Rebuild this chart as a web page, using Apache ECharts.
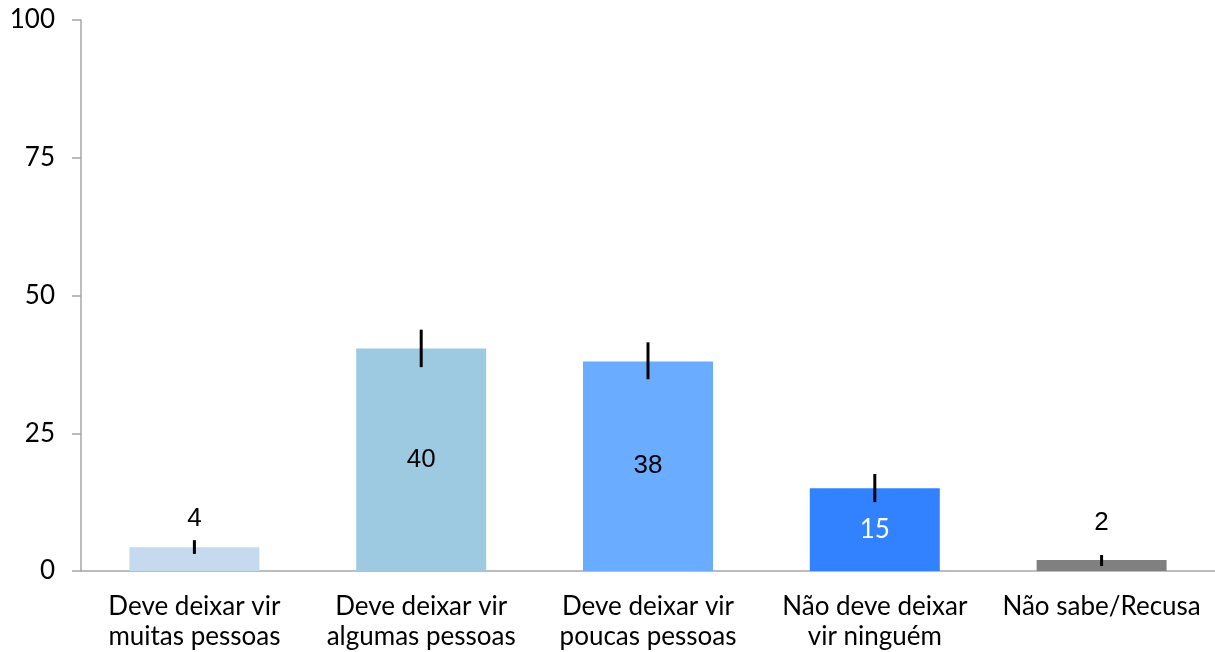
<!DOCTYPE html>
<html>
<head>
<meta charset="utf-8">
<script src="https://cdn.jsdelivr.net/npm/echarts@6/dist/echarts.min.js"></script>
<style>
  html, body { margin: 0; padding: 0; background: #fff; }
  #main { width: 1215px; height: 652px; }
</style>
</head>
<body>
<div id="main"></div>
<script>
const categories = [
  'Deve deixar vir\nmuitas pessoas',
  'Deve deixar vir\nalgumas pessoas',
  'Deve deixar vir\npoucas pessoas',
  'Não deve deixar\nvir ninguém',
  'Não sabe/Recusa'
]
const values = [4.3, 40.4, 38.0, 15.0, 2.0]
const labels = ['4', '40', '38', '15', '2']
const errLow = [3.1, 37.0, 34.8, 12.5, 0.9]
const errHigh = [5.6, 43.8, 41.5, 17.6, 2.9]
const colors = ['#c5d9ef', '#9ecae1', '#6aacff', '#3282ff', '#808080']
const yTicks = [0, 25, 50, 75, 100]

const chart = echarts.init(document.getElementById('main'))

const labelStyle = [
  { position: 'top', distance: 15, color: '#000', fontFamily: 'Liberation Sans' },
  { position: 'inside', color: '#000', fontFamily: 'Liberation Sans' },
  { position: 'inside', color: '#000', fontFamily: 'Liberation Sans' },
  { position: 'inside', color: '#fff', fontFamily: 'Lato' },
  { position: 'top', distance: 24, color: '#000', fontFamily: 'Liberation Sans' }
]

chart.setOption({
  animation: false,
  grid: { left: 81, right: 0, top: 20, bottom: 79 },
  xAxis: {
    type: 'category',
    data: categories,
    axisLine: { lineStyle: { color: '#a6a6a6', width: 1.5 } },
    axisTick: { show: false },
    axisLabel: {
      fontFamily: 'Lato', fontSize: 26, color: '#000',
      lineHeight: 30, margin: 21, interval: 0
    }
  },
  yAxis: {
    type: 'value',
    min: yTicks[0],
    max: yTicks[yTicks.length - 1],
    interval: 25,
    splitLine: { show: false },
    axisLine: { show: true, lineStyle: { color: '#a6a6a6', width: 1.5 } },
    axisTick: { show: true, length: 9, lineStyle: { color: '#a6a6a6', width: 1.5 } },
    axisLabel: { fontFamily: 'Lato', fontSize: 26, color: '#000', margin: 26 }
  },
  series: [
    {
      type: 'bar',
      barWidth: 130,
      data: values.map((v, i) => ({
        value: v,
        itemStyle: { color: colors[i] },
        label: Object.assign({
          show: true,
          fontSize: 26,
          formatter: () => labels[i]
        }, labelStyle[i])
      }))
    },
    {
      type: 'custom',
      z: 10,
      data: errLow.map((lo, i) => [i, lo, errHigh[i]]),
      renderItem: (params, api) => {
        const p1 = api.coord([api.value(0), api.value(1)])
        const p2 = api.coord([api.value(0), api.value(2)])
        return {
          type: 'line',
          shape: { x1: p1[0], y1: p1[1], x2: p2[0], y2: p2[1] },
          style: { stroke: '#000', lineWidth: 3 }
        }
      }
    }
  ]
})
</script>
</body>
</html>
